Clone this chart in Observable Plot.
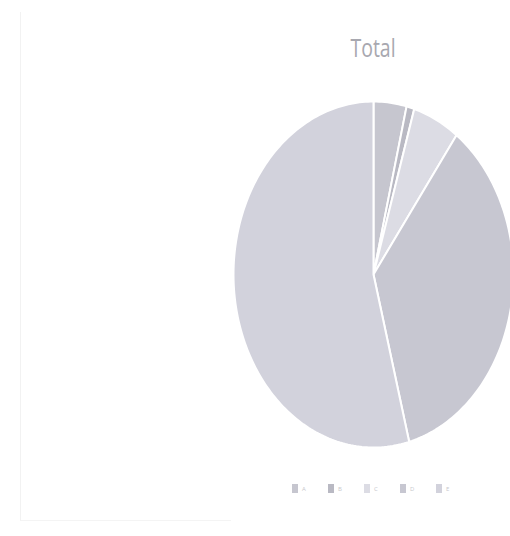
<!DOCTYPE html>
<html>
<head>
<meta charset="utf-8">
<script src="https://cdn.jsdelivr.net/npm/d3@7"></script>
<script src="https://cdn.jsdelivr.net/npm/@observablehq/plot@0.6"></script>
<style>
  html, body { margin: 0; padding: 0; background: #fff; }
  body { width: 510px; height: 536px; position: relative; overflow: hidden; font-family: "Open Sans", sans-serif; }
  #frame { position: absolute; left: 20px; top: 12px; width: 210px; height: 508px; border-left: 1px solid #f2f2f2; border-bottom: 1px solid #f4f4f4; }
  #title { position: absolute; left: 273px; width: 200px; top: 30px; text-align: center; font-size: 25px; color: #a8a8b0; transform: scaleX(0.78); line-height: 34px; }
  #chart { position: absolute; left: 0; top: 80px; }
  #legend { position: absolute; left: 292px; top: 484px; display: flex; gap: 6px; font-size: 6px; color: #c8c8cc; }
  .item { display: flex; align-items: center; gap: 4px; width: 30px; }
  .sw { width: 6px; height: 9px; }
</style>
</head>
<body>
<div id="frame"></div>
<div id="title">Total</div>
<div id="chart"></div>
<div id="legend"></div>
<script>
// Data (shares in percent, clockwise from 12 o'clock)
const categories = ["A", "B", "C", "D", "E"];
const values = [3.8, 0.9, 5.4, 35.8, 54.1];
const colors = ["#c6c6cf", "#b9b9c3", "#dcdce4", "#c7c7d1", "#d2d2dc"];

// Build slice outlines (center -> arc -> center) from the values
const total = d3.sum(values);
const rows = [];
let acc = 0;
categories.forEach((c, i) => {
  const a0 = acc / total * 2 * Math.PI;
  acc += values[i];
  const a1 = acc / total * 2 * Math.PI;
  const n = Math.max(2, Math.ceil((a1 - a0) / 0.02));
  rows.push({cat: c, x: 0, y: 0});
  for (let k = 0; k <= n; k++) {
    const a = a0 + (a1 - a0) * k / n;
    rows.push({cat: c, x: Math.sin(a), y: Math.cos(a)});
  }
  rows.push({cat: c, x: 0, y: 0});
});

const chart = Plot.plot({
  width: 510,
  height: 400,
  margin: 0,
  x: {domain: [-1, 1], range: [233, 513], axis: null},
  y: {domain: [-1, 1], range: [367, 21], axis: null},
  color: {domain: categories, range: colors},
  marks: [
    Plot.line(rows, {x: "x", y: "y", z: "cat", fill: "cat", stroke: "#fff", strokeWidth: 2, curve: "linear", strokeLinejoin: "round"})
  ]
});
document.getElementById("chart").appendChild(chart);

const legend = document.getElementById("legend");
categories.forEach((c, i) => {
  const it = document.createElement("div");
  it.className = "item";
  const sw = document.createElement("div");
  sw.className = "sw";
  sw.style.background = colors[i];
  const lb = document.createElement("span");
  lb.textContent = c;
  it.appendChild(sw);
  it.appendChild(lb);
  legend.appendChild(it);
});
</script>
</body>
</html>
